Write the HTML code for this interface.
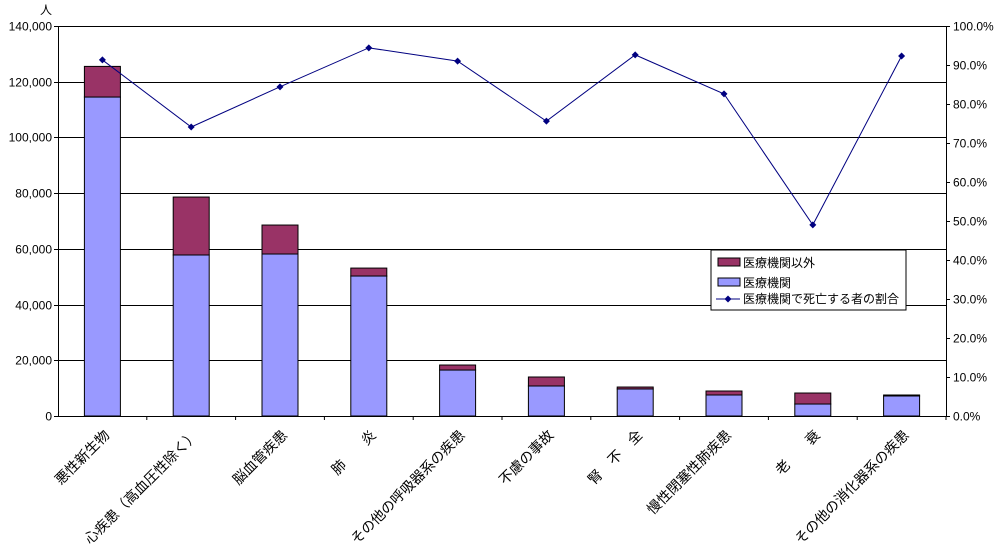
<!DOCTYPE html>
<html><head><meta charset="utf-8"><style>
body{margin:0;background:#fff;}
svg text{font-family:"Liberation Sans","Noto Sans CJK JP",sans-serif;font-size:12px;fill:#000;}
svg text.cat{font-size:14px;}
</style></head><body>
<svg id="chart" width="998" height="550">
<g id="grid"></g><g id="bars"></g><g id="line"></g><g id="axes"></g><g id="labels"></g>
<g>
<rect x="711" y="250" width="195" height="60" fill="#fff" stroke="#000"/>
<rect x="718" y="258" width="22" height="8" fill="#993366" stroke="#000"/>
<text x="743" y="267">医療機関以外</text>
<rect x="718" y="278" width="22" height="8" fill="#9999ff" stroke="#000"/>
<text x="743" y="287">医療機関</text>
<line x1="716" y1="299" x2="740" y2="299" stroke="#000080"/>
<path d="M728 295.5L731.5 299L728 302.5L724.5 299Z" fill="#000080"/>
<text x="743" y="303">医療機関で死亡する者の割合</text>
</g>
<text x="40" y="14">人</text>
</svg>
<script>
const categories=["悪性新生物","心疾患（高血圧性除く）","脳血管疾患","肺　　炎","その他の呼吸器系の疾患","不慮の事故","腎　不　全","慢性閉塞性肺疾患","老　　衰","その他の消化器系の疾患"];
const medical=[114500,57800,58150,50250,16500,10770,9700,7540,4300,7180];
const nonMedical=[11000,20800,10400,2850,1800,3230,700,1430,3950,360];
const ratio=[91.3,74.1,84.4,94.4,91.0,75.6,92.6,82.6,49.0,92.3];
const leftTicks=["0","20,000","40,000","60,000","80,000","100,000","120,000","140,000"];
const rightTicks=["0.0%","10.0%","20.0%","30.0%","40.0%","50.0%","60.0%","70.0%","80.0%","90.0%","100.0%"];
const NS="http://www.w3.org/2000/svg";
const L=58,R=946,T=26,B=416,maxV=140000;
const y=v=>B-v/maxV*(B-T);
const yr=p=>B-p/100*(B-T);
const cw=(R-L)/categories.length;
const cx=i=>L+cw*(i+0.5);
function mk(tag,attrs,parent){const e=document.createElementNS(NS,tag);for(const k in attrs)e.setAttribute(k,attrs[k]);document.getElementById(parent).appendChild(e);return e;}
leftTicks.forEach((t,i)=>{const v=i*20000;const yy=Math.round(y(v))+0.5;
 if(i>0){const g=mk('line',{x1:L,x2:R,y1:yy,y2:yy,stroke:'#000'},'grid');}
 mk('line',{x1:L-4,x2:L,y1:yy,y2:yy,stroke:'#000'},'axes');
 const tx=mk('text',{x:L-6,y:yy+4,'text-anchor':'end'},'axes');tx.textContent=t;
 });
rightTicks.forEach((t,i)=>{const yy=Math.round(yr(i*10))+0.5;
 mk('line',{x1:R,x2:R+4,y1:yy,y2:yy,stroke:'#000'},'axes');
 const tx=mk('text',{x:R+7,y:yy+4},'axes');tx.textContent=t;
 });
mk('line',{x1:L+0.5,x2:L+0.5,y1:T,y2:B,stroke:'#000'},'axes');
mk('line',{x1:R+0.5,x2:R+0.5,y1:T,y2:B,stroke:'#000'},'axes');
mk('line',{x1:L,x2:R,y1:B+0.5,y2:B+0.5,stroke:'#000'},'axes');
const bw=36;
categories.forEach((c,i)=>{
 mk('line',{x1:L+cw*(i+1),x2:L+cw*(i+1),y1:B,y2:B+4,stroke:'#000'},'axes');
 const b1=mk('rect',{x:cx(i)-bw/2,y:y(medical[i]),width:bw,height:B-y(medical[i]),fill:'#9999ff',stroke:'#000'},'bars');
 
 const top=medical[i]+nonMedical[i];
 const b2=mk('rect',{x:cx(i)-bw/2,y:y(top),width:bw,height:y(medical[i])-y(top),fill:'#993366',stroke:'#000'},'bars');
 
 const ax=cx(i)+8,ay=B+20;
 const tx=mk('text',{x:ax,y:ay,'text-anchor':'end',class:'cat',transform:`rotate(-45 ${ax} ${ay})`},'labels');
 tx.textContent=c;
});
const pl=mk('polyline',{points:ratio.map((p,i)=>cx(i)+','+yr(p)).join(' '),fill:'none',stroke:'#000080'},'line');

ratio.forEach((p,i)=>{const X=cx(i),Y=yr(p);
 const m=mk('path',{d:`M${X} ${Y-3.5}L${X+3.5} ${Y}L${X} ${Y+3.5}L${X-3.5} ${Y}Z`,fill:'#000080'},'line');
 });
</script>
</body></html>
